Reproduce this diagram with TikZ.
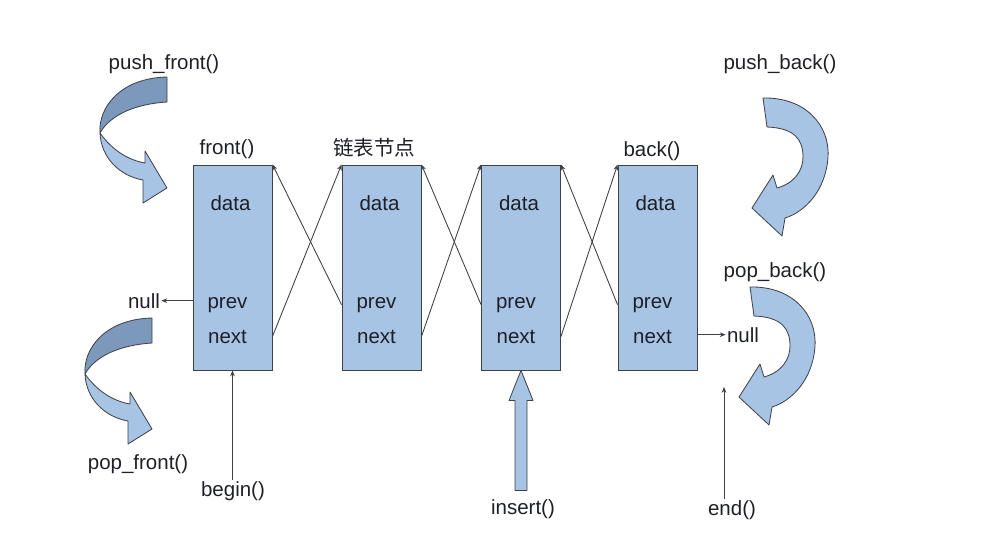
\documentclass[tikz,border=0pt]{standalone}
\usepackage{fontspec}
\setmainfont{Liberation Sans}
\newfontfamily\cjk{Noto Sans CJK SC}
\usetikzlibrary{positioning,arrows.meta}
\definecolor{nodeblue}{RGB}{167,196,229}
\definecolor{foldblue}{RGB}{124,152,187}
\definecolor{ink}{RGB}{30,32,40}
\tikzset{
  box/.style = {draw=ink!85, line width=0.8pt, fill=nodeblue, inner sep=0pt,
                minimum width=23.7mm, minimum height=61.5mm},
  field/.style = {anchor=base, inner sep=0pt, text=ink},
  lbl/.style = {anchor=base, inner sep=1pt, text=ink},
  link/.style = {draw=ink!85, line width=0.75pt, -{Stealth[length=5pt,width=4pt]}},
  curl/.style = {draw=ink!85, line width=0.7pt, fill=nodeblue, line join=round},
  fold/.style = {curl, fill=foldblue},
}
\begin{document}
\begin{tikzpicture}[x=0.3mm, y=-0.3mm, font=\fontsize{17.5}{21}\selectfont]
\useasboundingbox (0,0) rectangle (982,535);
% list nodes
\foreach \i/\x in {1/232.5, 2/381.5, 3/521, 4/657.5} {
  \node[box] (n\i) at (\x,267.5) {};
  \node[field] (d\i) at (\x-2,210) {data};
  \node[field] (pv\i) at (\x-5,308) {prev};
  \node[field] (nx\i) at (\x-5,343) {next};
}
% prev / next links
\foreach \i/\j in {1/2, 2/3, 3/4} {
  \draw[link] (n\i.east |- nx\i) -- (n\j.north west);
  \draw[link] (n\j.west |- pv\j) -- (n\i.north east);
}
% labels
\node[lbl] (front) at (227,154.5) {front()};
\node[lbl] (chain) at (374,155) {\cjk 链表节点};
\node[lbl] (back) at (652,156) {back()};
\node[lbl] (pushf) at (164,69) {push\_front()};
\node[lbl] (pushb) at (780,69) {push\_back()};
\node[lbl] (popb) at (775,277) {pop\_back()};
\node[lbl] (popf) at (138,469) {pop\_front()};
\node[lbl] (nullL) at (144,308) {null};
\node[lbl] (nullR) at (743,342) {null};
\node[lbl] (begin) at (233,496) {begin()};
\node[lbl] (insert) at (523,514) {insert()};
\node[lbl] (end) at (732,515) {end()};
\coordinate (endtip) at (724,387);
% pointers
\draw[link] (n1.west |- nullL.east) -- (nullL.east);
\draw[link] (n4.east |- nullR.west) -- (nullR.west);
\draw[link] (begin.north -| n1.south) -- (n1.south);
\draw[link] (end.north -| endtip) -- (endtip);
\draw[curl] (n3.south) -- ++(12,30) -- ++(-6,0) -- ++(0,90) -- ++(-12,0)
  -- ++(0,-90) -- ++(-6,0) -- cycle;
% curved arrows, front side
\foreach \dy/\dx in {0/0, 241/-15} {
  \begin{scope}[shift={(\dx,\dy)}]
    \draw[fold] (167,77) -- (167,102) .. controls (135,104) and (110,115) .. (100,133)
      .. controls (98,108) and (120,78) .. cycle;
    \draw[curl] (100,133) .. controls (112,150) and (128,160) .. (145,163) -- (145,151)
      -- (167,188) -- (143,203) -- (143,180) .. controls (120,176) and (101,158) .. cycle;
  \end{scope}
}
% curved arrows, back side
\foreach \dy/\dx in {0/0, 189/-13} {
  \begin{scope}[shift={(\dx,\dy)}]
    \draw[curl] (763,98) .. controls (805,97) and (830,125) .. (828,157)
      .. controls (826,190) and (805,212) .. (785,218) -- (782,236) -- (752,208)
      -- (773,175) -- (777,188) .. controls (795,183) and (803,170) .. (803,157)
      .. controls (803,140) and (795,128) .. (767,127) -- cycle;
  \end{scope}
}
\end{tikzpicture}
\end{document}
